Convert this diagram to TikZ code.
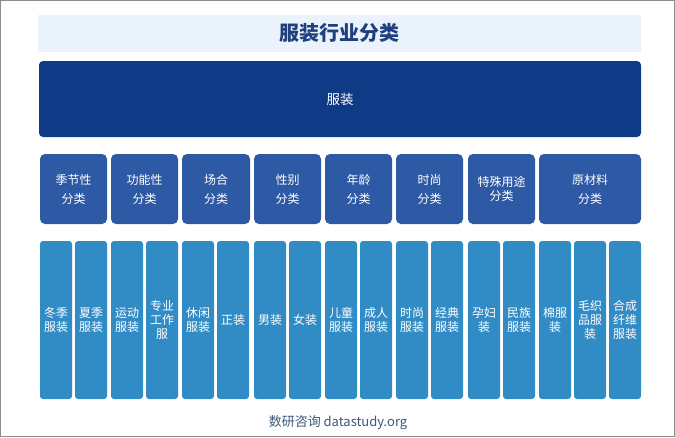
\documentclass[tikz,border=0pt]{standalone}
\usepackage{fontspec}
\setmainfont{Noto Sans CJK SC}
\usetikzlibrary{calc}

\definecolor{titlebg}{HTML}{EAF2FC}
\definecolor{titleblue}{HTML}{1F3F7F}
\definecolor{rootblue}{HTML}{0E3A86}
\definecolor{catblue}{HTML}{2E59A5}
\definecolor{leafblue}{HTML}{318BC4}
\definecolor{footgray}{HTML}{3B5878}

\tikzset{
  box/.style={inner sep=0pt,outer sep=0pt,align=center,text=white},
  catbox/.style={box,fill=catblue,rounded corners=5pt,minimum height=70pt,
    font=\fontsize{12}{19}\selectfont},
  leafbox/.style={box,fill=leafblue,rounded corners=3pt,minimum width=32pt,
    minimum height=158pt,font=\fontsize{12}{14}\selectfont}
}

\begin{document}
\begin{tikzpicture}[x=1pt,y=-1pt]
  \useasboundingbox (0,0) rectangle (675,437);
  \draw[gray!90,line width=1pt] (0.5,0.5) rectangle (674.5,436.5);
  % title and root
  \node[box,fill=titlebg,text=titleblue,minimum width=603pt,minimum height=37pt,
    font=\fontsize{20}{24}\selectfont\bfseries] (title) at (339.5,33) {服装行业分类};
  \node[box,fill=rootblue,rounded corners=4pt,minimum width=602pt,minimum height=76pt,
    font=\fontsize{13.5}{16}\selectfont] (root) at (340,99) {服装};
  % categories
  \foreach \n/\xl/\xr/\t in {season/40/107/{季节性\\分类},func/111/178/{功能性\\分类},
      occasion/182/250/{场合\\分类},gender/254/321/{性别\\分类},age/325/392/{年龄\\分类},
      fashion/396/463/{时尚\\分类},special/468/535/{特殊用途\\[-5pt]分类},
      material/539/641/{原材料\\分类}}
    \node[catbox,minimum width=\xr-\xl] (\n) at ({(\xl+\xr)/2},189) {\t};
  % leaves
  \foreach \n/\xl/\t in {winter/40/{冬季\\服装},summer/75/{夏季\\服装},sport/111/{运动\\服装},
      work/146/{专业\\工作\\服},casual/182/{休闲\\服装},formal/217/{正装},men/254/{男装},
      women/289/{女装},kids/325/{儿童\\服装},adult/360/{成人\\服装},trendy/396/{时尚\\服装},
      classic/431/{经典\\服装},maternity/468/{孕妇\\装},ethnic/503/{民族\\服装},
      cotton/539/{棉服\\装},wool/574/{毛织\\品服\\装},synthetic/609/{合成\\纤维\\服装}}
    \node[leafbox] (\n) at (\xl+16,320) {\t};
  % source
  \node[text=footgray,font=\fontsize{13}{16}\selectfont] (source) at (338,423)
    {数研咨询 datastudy.org};
\end{tikzpicture}
\end{document}
